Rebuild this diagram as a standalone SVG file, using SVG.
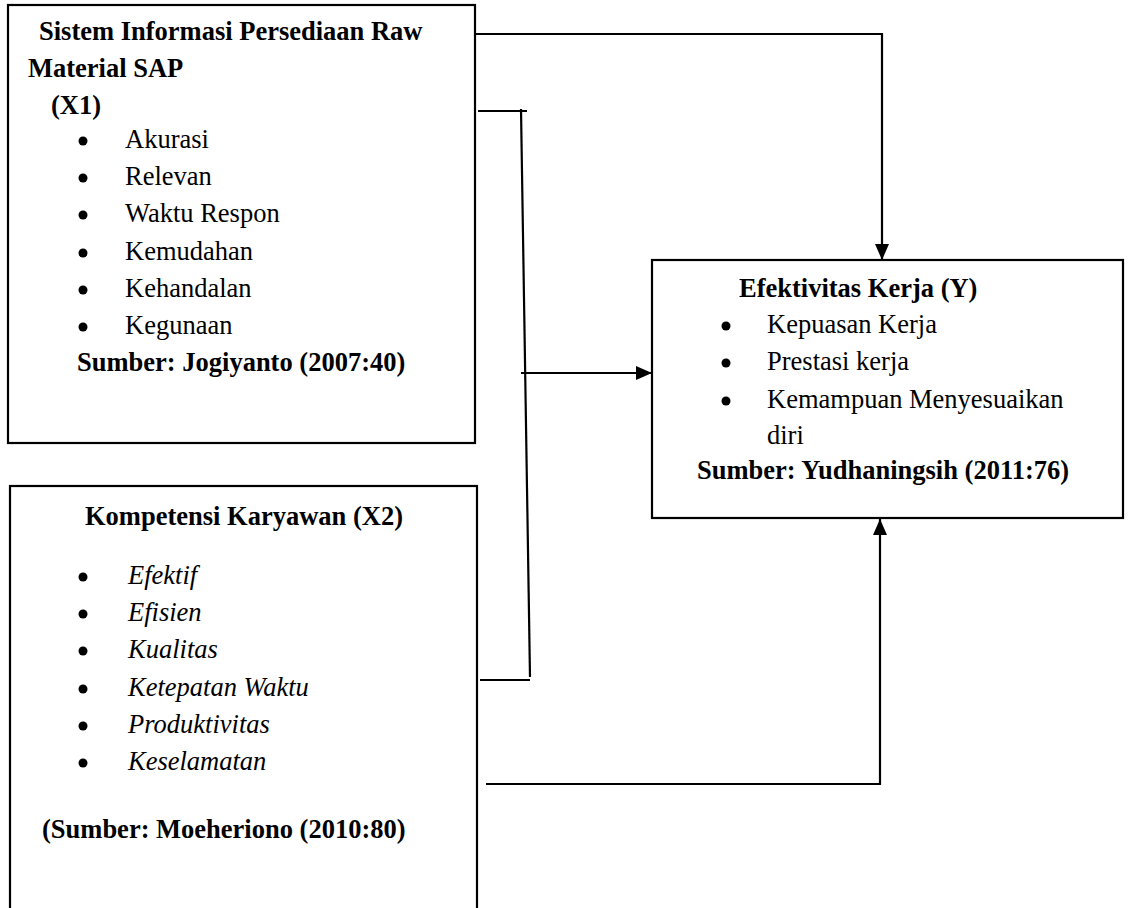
<svg xmlns="http://www.w3.org/2000/svg" width="1128" height="908" viewBox="0 0 1128 908">
<style>
.box{fill:#fff;stroke:#000;stroke-width:2.2}
.t{font-family:"Liberation Serif","Times New Roman",serif;font-size:26.5px;fill:#000}
.b{font-weight:bold}
.i{font-style:italic}
.c{fill:none;stroke:#000;stroke-width:2.2}
.dot{fill:#000}
</style>
<defs>
<marker id="arr" viewBox="0 0 16 16" refX="16" refY="8" markerWidth="16" markerHeight="16" markerUnits="userSpaceOnUse" orient="auto">
<path d="M0,1 L16,8 L0,15 Z" fill="#000"/>
</marker>
</defs>
<rect width="1128" height="908" fill="#fff"/>

<g id="x1">
<rect class="box" x="8" y="5" width="467" height="438"/>
<text class="t b" x="39" y="40">Sistem Informasi Persediaan Raw</text>
<text class="t b" x="28" y="77">Material SAP</text>
<text class="t b" x="51" y="114">(X1)</text>
<circle class="dot" cx="83" cy="141" r="4.5"/><text class="t" x="125" y="148">Akurasi</text>
<circle class="dot" cx="83" cy="178" r="4.5"/><text class="t" x="125" y="185">Relevan</text>
<circle class="dot" cx="83" cy="215" r="4.5"/><text class="t" x="125" y="222">Waktu Respon</text>
<circle class="dot" cx="83" cy="253" r="4.5"/><text class="t" x="125" y="260">Kemudahan</text>
<circle class="dot" cx="83" cy="290" r="4.5"/><text class="t" x="125" y="297">Kehandalan</text>
<circle class="dot" cx="83" cy="327" r="4.5"/><text class="t" x="125" y="334">Kegunaan</text>
<text class="t b" x="77" y="371">Sumber: Jogiyanto (2007:40)</text>
</g>

<g id="x2">
<rect class="box" x="10" y="486" width="467" height="430"/>
<text class="t b" x="85" y="525">Kompetensi Karyawan (X2)</text>
<circle class="dot" cx="83" cy="577" r="4.5"/><text class="t i" x="128" y="584">Efektif</text>
<circle class="dot" cx="83" cy="614" r="4.5"/><text class="t i" x="128" y="621">Efisien</text>
<circle class="dot" cx="83" cy="651" r="4.5"/><text class="t i" x="128" y="658">Kualitas</text>
<circle class="dot" cx="83" cy="689" r="4.5"/><text class="t i" x="128" y="696">Ketepatan Waktu</text>
<circle class="dot" cx="83" cy="726" r="4.5"/><text class="t i" x="128" y="733">Produktivitas</text>
<circle class="dot" cx="83" cy="763" r="4.5"/><text class="t i" x="128" y="770">Keselamatan</text>
<text class="t b" x="42" y="838">(Sumber: Moeheriono (2010:80)</text>
</g>

<g id="y">
<rect class="box" x="652" y="260" width="471" height="258"/>
<text class="t b" x="739" y="297">Efektivitas Kerja (Y)</text>
<circle class="dot" cx="726" cy="326" r="4.5"/><text class="t" x="767" y="333">Kepuasan Kerja</text>
<circle class="dot" cx="726" cy="363" r="4.5"/><text class="t" x="767" y="370">Prestasi kerja</text>
<circle class="dot" cx="726" cy="401" r="4.5"/><text class="t" x="767" y="408">Kemampuan Menyesuaikan</text>
<text class="t" x="767" y="444">diri</text>
<text class="t b" x="697" y="479">Sumber: Yudhaningsih (2011:76)</text>
</g>

<g id="connectors">
<polyline class="c" points="475,34 882,34 882,260" marker-end="url(#arr)"/>
<line class="c" x1="478" y1="111" x2="527" y2="111"/>
<line class="c" x1="521" y1="109" x2="530" y2="677"/>
<line class="c" x1="480" y1="680" x2="530" y2="680"/>
<line class="c" x1="521" y1="373" x2="652" y2="373" marker-end="url(#arr)"/>
<polyline class="c" points="486,784 880,784 880,519" marker-end="url(#arr)"/>
</g>
</svg>
